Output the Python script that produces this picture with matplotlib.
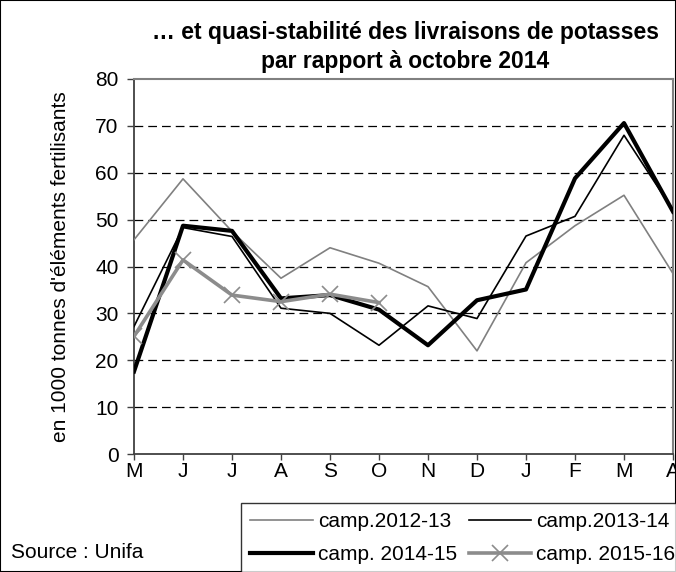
import matplotlib
matplotlib.use("Agg")
import matplotlib.pyplot as plt
from matplotlib.lines import Line2D
from matplotlib.patches import Rectangle

plt.rcParams['font.family'] = ['Liberation Sans', 'DejaVu Sans']

# months of the campaign (May -> April)
months = ["M", "J", "J", "A", "S", "O", "N", "D", "J", "F", "M", "A"]

camp_2012_13 = [45.7, 58.7, 47.5, 37.5, 44.0, 40.7, 35.7, 22.0, 40.8, 48.7, 55.2, 38.5]
camp_2013_14 = [27.2, 48.3, 46.4, 31.1, 30.0, 23.2, 31.6, 28.9, 46.5, 50.7, 68.0, 52.0]
camp_2014_15 = [17.6, 48.7, 47.6, 33.2, 33.9, 30.8, 23.2, 32.8, 35.1, 58.8, 70.6, 51.7]
camp_2015_16 = [25.1, 41.4, 33.9, 32.5, 34.1, 32.3]

labels = ["camp.2012-13", "camp.2013-14", "camp. 2014-15", "camp. 2015-16"]

FS = 15

fig = plt.figure(figsize=(6.76, 5.72), dpi=100)
W, H = 676, 572

# axes placed in pixel terms, right edge runs to the figure border
left, right, top, bottom = 134, 673, 79, 454
ax = fig.add_axes([left / W, 1 - bottom / H, (right - left) / W, (bottom - top) / H])

x = list(range(len(months)))
ax.plot(x, camp_2012_13, color="#808080", lw=1.2, zorder=3)
ax.plot(x, camp_2013_14, color="black", lw=1.2, zorder=3)
ax.plot(x, camp_2014_15, color="black", lw=3.0, zorder=4)
ax.plot(x[:len(camp_2015_16)], camp_2015_16, color="#8c8c8c", lw=2.6,
        marker="x", ms=12, mew=1.2, zorder=5)

ax.set_xlim(0, 11)
ax.set_ylim(0, 80)
ax.set_xticks(x)
ax.set_xticklabels(months, fontsize=FS)
ax.set_yticks(range(0, 81, 10))
ax.tick_params(axis="y", labelsize=FS, direction="out", length=5, width=1, color="#404040", pad=6)
ax.tick_params(axis="x", labelsize=FS, direction="out", length=4, width=1, color="#404040", pad=2)

for yv in range(10, 80, 10):
    ax.axhline(yv, color="black", lw=0.9, dashes=(7, 4), zorder=1)

for s in ("left", "bottom"):
    ax.spines[s].set_color("#404040")
    ax.spines[s].set_linewidth(1.3)
for s in ("top", "right"):
    ax.spines[s].set_color("#808080")
    ax.spines[s].set_linewidth(1.5)

ax.set_ylabel("en 1000 tonnes d'éléments fertilisants", fontsize=FS)
ax.yaxis.set_label_coords((70 - left) / (right - left), 0.5)

fig.text(405 / W, 1 - 33 / H, "… et quasi-stabilité des livraisons de potasses",
         ha="center", va="center", fontsize=16.5, fontweight="bold")
fig.text(405 / W, 1 - 62 / H, "par rapport à octobre 2014",
         ha="center", va="center", fontsize=16.5, fontweight="bold")

fig.text(11 / W, 1 - 553 / H, "Source : Unifa", ha="left", va="center", fontsize=FS)

handles = [
    Line2D([], [], color="#808080", lw=1.2),
    Line2D([], [], color="#8c8c8c", lw=2.6, marker="x", ms=12, mew=1.2),
    Line2D([], [], color="black", lw=1.2),
    Line2D([], [], color="black", lw=3.0),
]
# order so that ncol=2 fills rows: (2012-13, 2013-14) / (2014-15, 2015-16)
handles = [handles[0], handles[3], handles[2], handles[1]]
leg_labels = [labels[0], labels[2], labels[1], labels[3]]
leg = fig.legend(handles, leg_labels, loc="upper left",
                 bbox_to_anchor=(241 / W, 1 - 503 / H), ncol=2, fontsize=FS,
                 frameon=True, fancybox=False, handlelength=3.0,
                 handletextpad=0.25, columnspacing=0.55, labelspacing=0.65,
                 borderpad=0.45, borderaxespad=0, numpoints=1)
leg.get_frame().set_edgecolor("black")
leg.get_frame().set_linewidth(1.0)

# outer border of the figure
fig.patches.append(Rectangle((0, 0), 1, 1, transform=fig.transFigure,
                             fill=False, edgecolor="black", lw=1.5))

fig.savefig("out.png", dpi=100)
